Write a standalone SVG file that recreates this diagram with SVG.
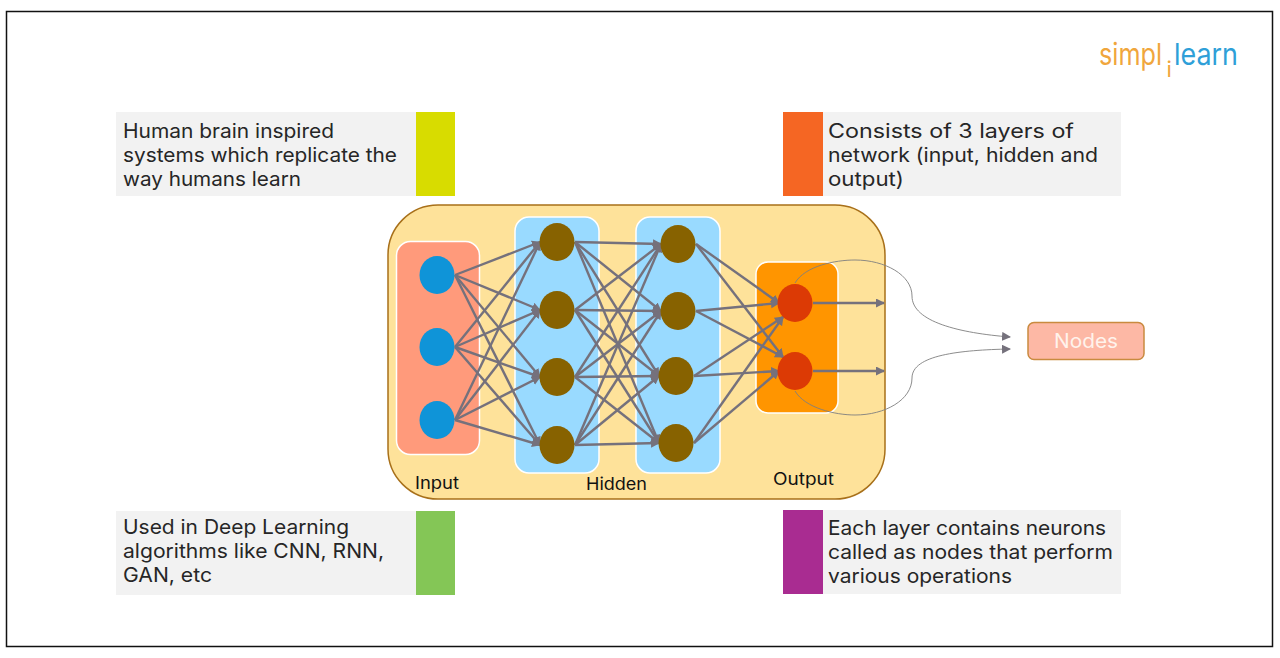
<svg xmlns="http://www.w3.org/2000/svg" width="1280" height="658" viewBox="0 0 1280 658">
<style>
text{font-family:"Inter","Noto Sans","Liberation Sans",sans-serif}
.t{font-size:20px;fill:#262626;font-weight:400}
.l{font-size:17px;fill:#111;font-weight:400}
.g{fill:#f2f2f2}
.b{stroke:#fff;stroke-width:1.5}
.in{fill:#0f94d8}.hd{fill:#876200}.ou{fill:#dc3a05}
#connectors line{stroke:#75717c;stroke-width:2.4;marker-end:url(#a)}
#connectors path{fill:none;stroke:#7f7f7f;stroke-width:.9;marker-end:url(#a2)}
</style>
<defs>
<marker id="a" markerUnits="userSpaceOnUse" markerWidth="10" markerHeight="10" refX="8" refY="4.500" orient="auto"><path d="M0 0L9 4.500L0 9z" fill="#75717c"/></marker>
<marker id="a2" markerUnits="userSpaceOnUse" markerWidth="10" markerHeight="10" refX="8" refY="4.500" orient="auto"><path d="M0 0L9 4.500L0 9z" fill="#75717c"/></marker>
</defs>
<rect width="1280" height="658" fill="#fff"/>
<rect x="6.500" y="11.500" width="1266" height="635" fill="#fff" stroke="#111" stroke-width="1.500"/>
<g id="logo">
<text style="font-size:30px;font-weight:400" fill="#f0a63c"><tspan x="1099" y="65" textLength="63" lengthAdjust="spacingAndGlyphs">simpl</tspan><tspan x="1166.500" y="77" style="font-size:22px">i</tspan><tspan x="1174" y="65" fill="#2f9fd8" textLength="64" lengthAdjust="spacingAndGlyphs">learn</tspan></text>
</g>
<g id="card-top-left">
<rect class="g" x="116" y="112" width="300" height="84"/><rect x="416" y="112" width="39" height="84" fill="#d8dc00"/>
<text class="t" x="123" y="138" textLength="211" lengthAdjust="spacingAndGlyphs">Human brain inspired</text>
<text class="t" x="123" y="162" textLength="274" lengthAdjust="spacingAndGlyphs">systems which replicate the</text>
<text class="t" x="123" y="186" textLength="178" lengthAdjust="spacingAndGlyphs">way humans learn</text>
</g>
<g id="card-top-right">
<rect class="g" x="823" y="112" width="298" height="84"/><rect x="783" y="112" width="40" height="84" fill="#f56623"/>
<text class="t" x="828" y="138" textLength="246" lengthAdjust="spacingAndGlyphs">Consists of 3 layers of</text>
<text class="t" x="828" y="162" textLength="270" lengthAdjust="spacingAndGlyphs">network (input, hidden and</text>
<text class="t" x="828" y="186" textLength="76" lengthAdjust="spacingAndGlyphs">output)</text>
</g>
<g id="card-bottom-left">
<rect class="g" x="116" y="511" width="300" height="84"/><rect x="416" y="511" width="39" height="84" fill="#84c656"/>
<text class="t" x="123" y="534" textLength="226" lengthAdjust="spacingAndGlyphs">Used in Deep Learning</text>
<text class="t" x="123" y="558" textLength="261" lengthAdjust="spacingAndGlyphs">algorithms like CNN, RNN,</text>
<text class="t" x="123" y="582" textLength="89" lengthAdjust="spacingAndGlyphs">GAN, etc</text>
</g>
<g id="card-bottom-right">
<rect class="g" x="823" y="510" width="298" height="84"/><rect x="783" y="510" width="40" height="84" fill="#a92c91"/>
<text class="t" x="828" y="535" textLength="278" lengthAdjust="spacingAndGlyphs">Each layer contains neurons</text>
<text class="t" x="828" y="559" textLength="285" lengthAdjust="spacingAndGlyphs">called as nodes that perform</text>
<text class="t" x="828" y="583" textLength="184" lengthAdjust="spacingAndGlyphs">various operations</text>
</g>
<g id="network">
<rect x="388" y="205" width="497" height="294" rx="50" fill="#fee29a" stroke="#a8701a" stroke-width="1.500"/>
<rect class="b" x="396.500" y="241.500" width="83" height="213" rx="14" fill="#ff9a7b"/>
<rect class="b" x="515" y="217" width="84" height="256" rx="14" fill="#99daff"/>
<rect class="b" x="636" y="217" width="84" height="256" rx="14" fill="#99daff"/>
<rect class="b" x="756" y="262" width="82" height="151" rx="12" fill="#ff9500"/>
<text class="l" x="415" y="489" textLength="44" lengthAdjust="spacingAndGlyphs">Input</text>
<text class="l" x="586" y="490" textLength="61" lengthAdjust="spacingAndGlyphs">Hidden</text>
<text class="l" x="773" y="485" textLength="61" lengthAdjust="spacingAndGlyphs">Output</text>
</g>
<g id="connectors">
<line x1="455" y1="275" x2="540" y2="242"/><line x1="455" y1="275" x2="540" y2="310"/><line x1="455" y1="275" x2="540" y2="377"/><line x1="455" y1="275" x2="540" y2="445"/>
<line x1="455" y1="347" x2="540" y2="242"/><line x1="455" y1="347" x2="540" y2="310"/><line x1="455" y1="347" x2="540" y2="377"/><line x1="455" y1="347" x2="540" y2="445"/>
<line x1="455" y1="420" x2="540" y2="242"/><line x1="455" y1="420" x2="540" y2="310"/><line x1="455" y1="420" x2="540" y2="377"/><line x1="455" y1="420" x2="540" y2="445"/>
<line x1="575" y1="242" x2="661" y2="244"/><line x1="575" y1="242" x2="661" y2="311"/><line x1="575" y1="242" x2="659" y2="376"/><line x1="575" y1="242" x2="659" y2="443"/>
<line x1="575" y1="310" x2="661" y2="244"/><line x1="575" y1="310" x2="661" y2="311"/><line x1="575" y1="310" x2="659" y2="376"/><line x1="575" y1="310" x2="659" y2="443"/>
<line x1="575" y1="377" x2="661" y2="244"/><line x1="575" y1="377" x2="661" y2="311"/><line x1="575" y1="377" x2="659" y2="376"/><line x1="575" y1="377" x2="659" y2="443"/>
<line x1="575" y1="445" x2="661" y2="244"/><line x1="575" y1="445" x2="661" y2="311"/><line x1="575" y1="445" x2="659" y2="376"/><line x1="575" y1="445" x2="659" y2="443"/>
<line x1="696" y1="244" x2="779" y2="303"/><line x1="696" y1="311" x2="779" y2="303"/><line x1="694" y1="376" x2="783" y2="317"/><line x1="694" y1="443" x2="783" y2="317"/>
<line x1="696" y1="244" x2="783" y2="357"/><line x1="696" y1="311" x2="783" y2="357"/><line x1="694" y1="376" x2="779" y2="371"/><line x1="694" y1="443" x2="779" y2="371"/>
<line x1="813" y1="303" x2="884" y2="303"/><line x1="813" y1="371" x2="884" y2="371"/>
<path d="M795 283C805 266 835 260 855 260C885 260 912 275 912 296C912 322 960 333 1010 337"/>
<path d="M795 391C805 408 835 415 855 415C885 415 912 400 912 378C912 355 960 350 1010 349"/>
</g>
<g id="input-1"><ellipse class="in" cx="437" cy="275" rx="17.500" ry="19"/></g>
<g id="input-2"><ellipse class="in" cx="437" cy="347" rx="17.500" ry="19"/></g>
<g id="input-3"><ellipse class="in" cx="437" cy="420" rx="17.500" ry="19"/></g>
<g id="hidden-1-1"><ellipse class="hd" cx="557" cy="242" rx="17.500" ry="19"/></g>
<g id="hidden-1-2"><ellipse class="hd" cx="557" cy="310" rx="17.500" ry="19"/></g>
<g id="hidden-1-3"><ellipse class="hd" cx="557" cy="377" rx="17.500" ry="19"/></g>
<g id="hidden-1-4"><ellipse class="hd" cx="557" cy="445" rx="17.500" ry="19"/></g>
<g id="hidden-2-1"><ellipse class="hd" cx="678" cy="244" rx="17.500" ry="19"/></g>
<g id="hidden-2-2"><ellipse class="hd" cx="678" cy="311" rx="17.500" ry="19"/></g>
<g id="hidden-2-3"><ellipse class="hd" cx="676" cy="376" rx="17.500" ry="19"/></g>
<g id="hidden-2-4"><ellipse class="hd" cx="676" cy="443" rx="17.500" ry="19"/></g>
<g id="output-1"><ellipse class="ou" cx="795" cy="303" rx="17.500" ry="19"/></g>
<g id="output-2"><ellipse class="ou" cx="795" cy="371" rx="17.500" ry="19"/></g>
<g id="nodes-label">
<rect x="1028" y="322.500" width="116" height="37" rx="6" fill="#fdb8a5" stroke="#c98a3f" stroke-width="1.500"/>
<text x="1054" y="348" textLength="64" lengthAdjust="spacingAndGlyphs" style="font-size:20px;font-weight:400" fill="#fff3ec">Nodes</text>
</g>
</svg>
